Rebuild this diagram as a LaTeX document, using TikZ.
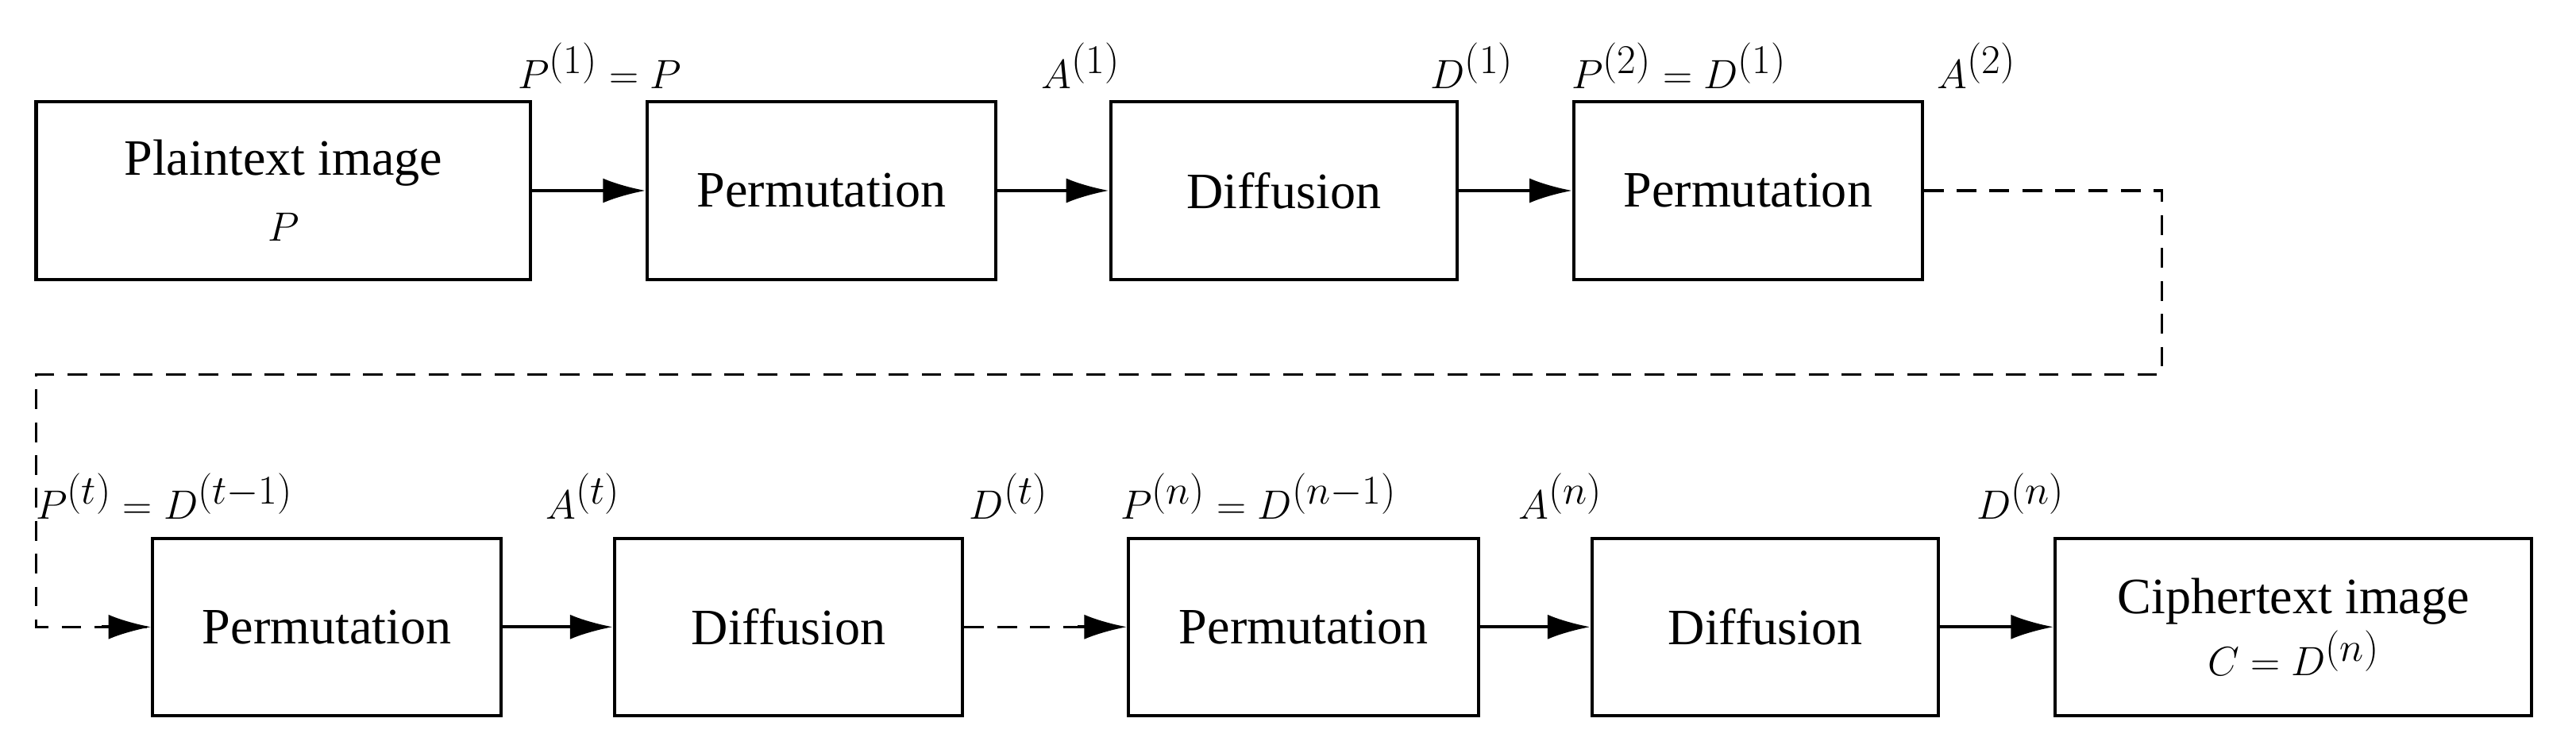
\documentclass[tikz,border=0pt]{standalone}
\usepackage{fontspec}
\setmainfont{Liberation Serif}
\usetikzlibrary{arrows.meta}
\begin{document}
\begin{tikzpicture}[x=1pt,y=-1pt,
  box/.style={draw,line width=2pt,minimum height=108pt,align=center,inner sep=0pt,font=\fontsize{31}{38}\selectfont},
  lab/.style={font=\fontsize{34}{40}\selectfont,inner sep=0pt},
  arr/.style={line width=2pt,-{Latex[length=26pt,width=15pt]}},
  dsh/.style={line width=1.6pt,dash pattern=on 12pt off 8pt}]
\useasboundingbox (0,0) rectangle (1568,458);
\node[box,minimum width=301pt] (pl) at (172.5,116) {Plaintext image\\[2pt]{\fontsize{34}{40}\selectfont$P$}};
\node[box,minimum width=212pt] (p1) at (500,116) {Permutation};
\node[box,minimum width=211pt] (d1) at (781.5,116) {Diffusion};
\node[box,minimum width=212pt] (p2) at (1064,116) {Permutation};
\node[box,minimum width=212pt] (pt) at (199,381.5) {Permutation};
\node[box,minimum width=212pt] (dt) at (480,381.5) {Diffusion};
\node[box,minimum width=213pt] (pn) at (793.5,381.5) {Permutation};
\node[box,minimum width=211pt] (dn) at (1074.5,381.5) {Diffusion};
\node[box,minimum width=290pt] (c) at (1396,381.5) {Ciphertext image\\[0pt]{\fontsize{34}{40}\selectfont$C=D^{(n)}$}};
\draw[arr] (pl) -- (p1);
\draw[arr] (p1) -- (d1);
\draw[arr] (d1) -- (p2);
\coordinate (c1) at (1316,116);
\coordinate (c2) at (1316,228);
\coordinate (c3) at (22,228);
\coordinate (c4) at (22,381.5);
\draw[dsh] (p2.east) -- (c1) -- (c2) -- (c3) -- (c4) -- (pt.west);
\draw[arr] ([xshift=-30pt]pt.west) -- (pt.west);
\draw[arr] (pt) -- (dt);
\draw[dsh] (dt.east) -- ([xshift=-28pt]pn.west);
\draw[arr] ([xshift=-30pt]pn.west) -- (pn.west);
\draw[arr] (pn) -- (dn);
\draw[arr] (dn) -- (c);
\node[lab] (l1) at (365,40) {$P^{(1)}=P$};
\node[lab] (l2) at (658,40) {$A^{(1)}$};
\node[lab] (l3) at (896,40) {$D^{(1)}$};
\node[lab] (l4) at (1022,40) {$P^{(2)}=D^{(1)}$};
\node[lab] (l5) at (1203,40) {$A^{(2)}$};
\node[lab] (l6) at (100,302) {$P^{(t)}=D^{(t-1)}$};
\node[lab] (l7) at (355,302) {$A^{(t)}$};
\node[lab] (l8) at (614,302) {$D^{(t)}$};
\node[lab] (l9) at (766,302) {$P^{(n)}=D^{(n-1)}$};
\node[lab] (l10) at (950,302) {$A^{(n)}$};
\node[lab] (l11) at (1230,302) {$D^{(n)}$};
\end{tikzpicture}
\end{document}
